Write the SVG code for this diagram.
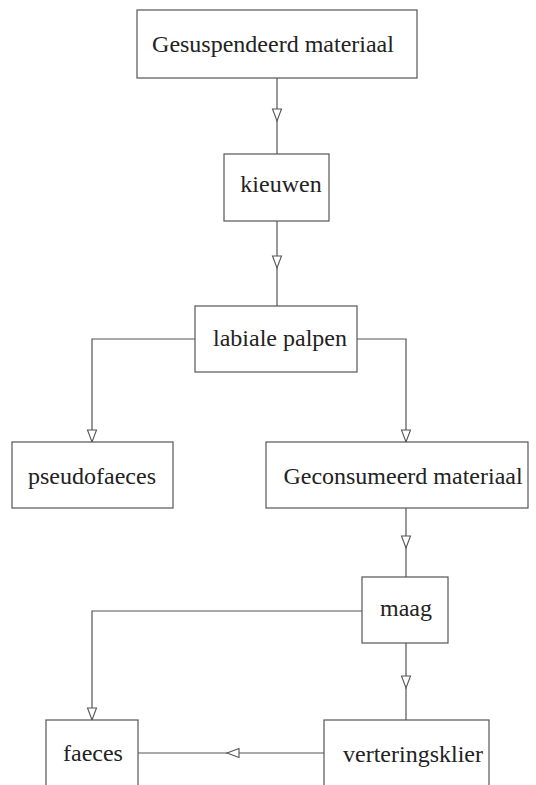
<svg xmlns="http://www.w3.org/2000/svg" xmlns:xlink="http://www.w3.org/1999/xlink" width="536" height="785" viewBox="0 0 536 785">
<style>
.box{fill:#fff;stroke:#555;stroke-width:1.2}
.lbl{font-family:"Liberation Serif","Times New Roman",serif;font-size:24px;fill:#222;text-anchor:middle}
.ln{fill:none;stroke:#555;stroke-width:1.2}
.ah{fill:#fff;stroke:#555;stroke-width:1.1}
</style>
<defs>
<path id="ah" class="ah" d="M-4.5,-12 L4.5,-12 L0,0 Z"/>
</defs>
<rect width="536" height="785" fill="#fff"/>
<g id="connectors">
<path class="ln" d="M277,78 V154"/>
<path class="ln" d="M277,221 V306"/>
<path class="ln" d="M195,339 H92 V442"/>
<path class="ln" d="M357,339 H406 V442"/>
<path class="ln" d="M406,508 V577"/>
<path class="ln" d="M362,611 H92 V720"/>
<path class="ln" d="M406,643 V720"/>
<path class="ln" d="M324,753 H138"/>
<use xlink:href="#ah" x="277" y="121"/>
<use xlink:href="#ah" x="277" y="268"/>
<use xlink:href="#ah" x="92" y="442"/>
<use xlink:href="#ah" x="406" y="442"/>
<use xlink:href="#ah" x="406" y="548"/>
<use xlink:href="#ah" x="92" y="720"/>
<use xlink:href="#ah" x="406" y="688"/>
<use xlink:href="#ah" transform="translate(227,753) rotate(90)"/>
</g>
<g id="gesuspendeerd"><rect class="box" x="137" y="10" width="280" height="68"/><text class="lbl" x="273" y="52">Gesuspendeerd materiaal</text></g>
<g id="kieuwen"><rect class="box" x="224" y="154" width="105" height="67"/><text class="lbl" x="281" y="192">kieuwen</text></g>
<g id="labiale"><rect class="box" x="195" y="306" width="162" height="66"/><text class="lbl" x="280" y="346">labiale palpen</text></g>
<g id="pseudofaeces"><rect class="box" x="12" y="442" width="161" height="66"/><text class="lbl" x="92" y="484">pseudofaeces</text></g>
<g id="geconsumeerd"><rect class="box" x="266" y="442" width="262" height="66"/><text class="lbl" x="403" y="484">Geconsumeerd materiaal</text></g>
<g id="maag"><rect class="box" x="362" y="577" width="86" height="66"/><text class="lbl" x="406" y="616">maag</text></g>
<g id="faeces"><rect class="box" x="46" y="720" width="92" height="80"/><text class="lbl" x="93" y="761">faeces</text></g>
<g id="verteringsklier"><rect class="box" x="324" y="720" width="165" height="80"/><text class="lbl" x="413" y="762">verteringsklier</text></g>
</svg>
